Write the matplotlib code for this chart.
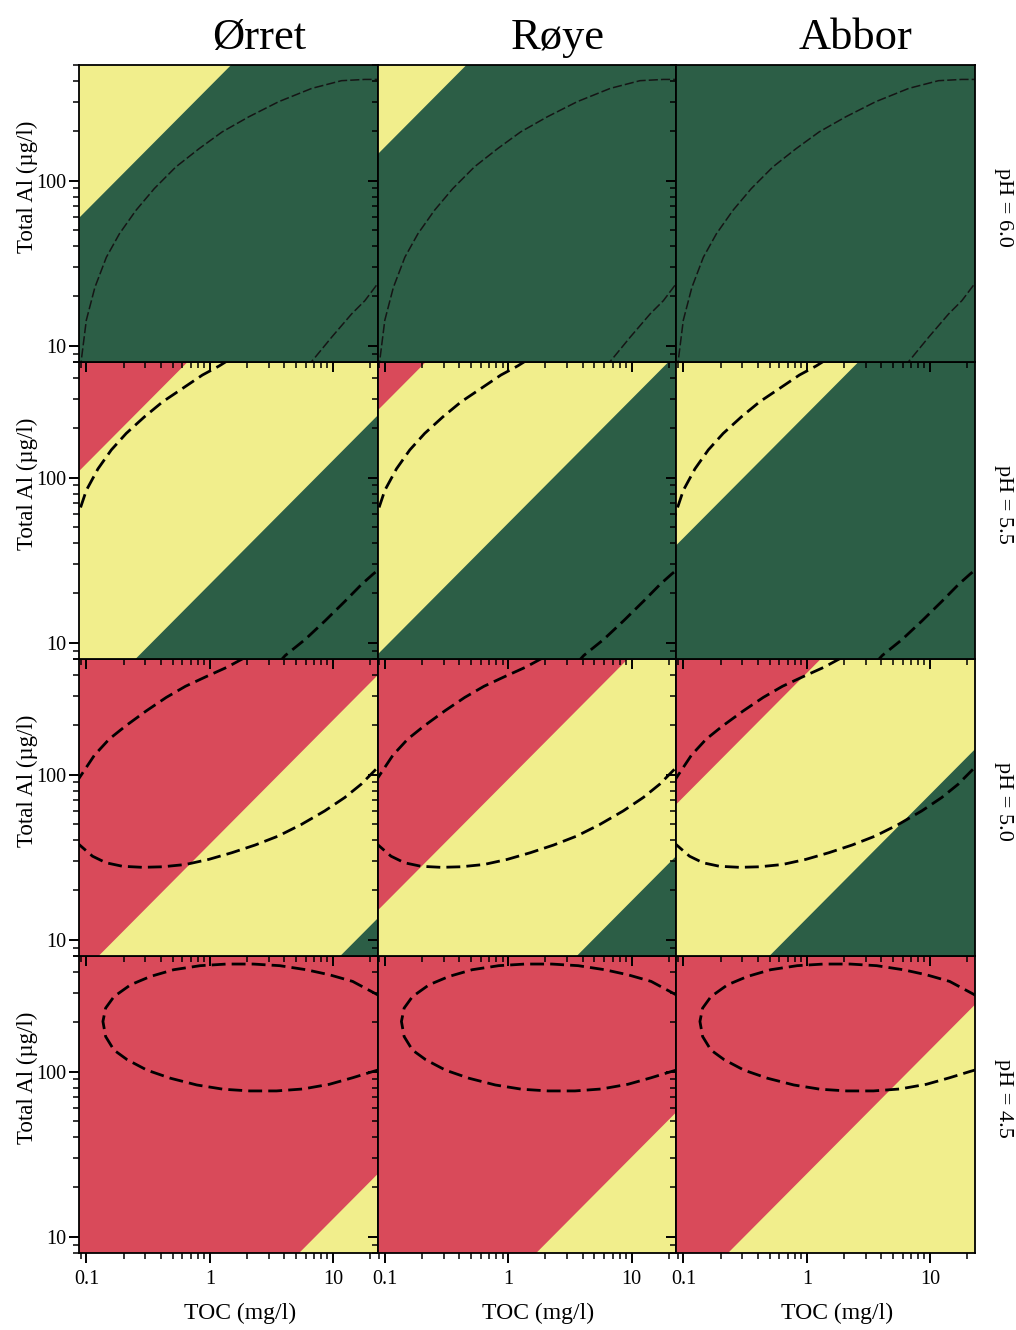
import matplotlib
matplotlib.use('Agg')
import matplotlib.pyplot as plt
from matplotlib.ticker import FixedLocator, LogLocator, NullFormatter

plt.rcParams['font.family'] = ['Liberation Serif', 'DejaVu Serif']

SPECIES = ['Ørret', 'Røye', 'Abbor']
PH_LABELS = ['pH = 6.0', 'pH = 5.5', 'pH = 5.0', 'pH = 4.5']

# band boundaries (straight in log-log): Al (ug/l) at TOC = 0.01 and TOC = 100
TOC_ENDS = [0.01, 100]
RED_YELLOW = [
    [[363, 363000], [871, 871000], [3890, 3.89e6]],     # off chart at pH 6.0
    [[21.9, 21880], [50.9, 50930], [232, 232000]],
    [[1.20, 1202], [2.97, 2965], [13.2, 13180]],
    [[0.0724, 72.4], [0.171, 171], [0.762, 762]],
]
YELLOW_GREEN = [
    [[11.9, 11885], [28.8, 28840], [129, 128800]],
    [[0.716, 716], [1.68, 1679], [7.67, 7674]],
    [[0.0407, 40.7], [0.097, 97.0], [0.427, 427]],
    [[0.0024, 2.40], [0.00566, 5.66], [0.0158, 15.8]],  # off chart at pH 4.5
]

# dashed curves (same in all columns of a row)
PH60_TOC = [[0.0887, 0.091, 0.0997, 0.117, 0.145, 0.185, 0.252, 0.355, 0.531, 0.819,
             1.26, 2.07, 3.62, 6.71, 11.7, 18.1, 24],
            [6.15, 6.93, 9.73, 14.1, 18.1, 21.8, 24]]
PH60_AL = [[7.2, 8.3, 14.3, 22.6, 34.4, 47.7, 66.1, 89.5, 121, 156,
            197, 243, 300, 361, 402, 409, 409],
           [7.5, 8.3, 11.3, 15.6, 18.8, 22.6, 24.9]]
PH55_TOC = [[0.080, 0.088, 0.0998, 0.124, 0.159, 0.210, 0.295, 0.414, 0.601, 0.871,
             1.19, 1.34, 1.45],
            [3.57, 4.09, 5.93, 8.59, 12.5, 17.0, 21.1, 24]]
PH55_AL = [[50.6, 63.4, 83.8, 113, 147, 185, 233, 287, 346, 417, 473, 500, 520],
           [7.5, 8.4, 10.5, 13.6, 17.9, 22.6, 26.1, 28.2]]
PH50_TOC = [[0.0813, 0.092, 0.116, 0.153, 0.208, 0.306, 0.444, 0.635, 0.933, 1.38, 1.77, 2.2],
            [0.0813, 0.093, 0.112, 0.144, 0.196, 0.284, 0.412, 0.635, 0.98, 1.51, 2.33,
             3.59, 5.54, 8.55, 12.4, 16.9, 19.1, 24]]
PH50_AL = [[88, 101, 131, 164, 197, 243, 293, 342, 391, 446, 493, 538],
           [39.5, 36.2, 32.1, 29.3, 27.9, 27.5, 27.7, 28.6, 30.7, 33.7, 37.5,
            42.5, 50, 60.3, 72.6, 87.5, 96, 114]]
PH45_TOC = [[24, 21.5, 14.4, 9.33, 6.05, 3.69, 2.25, 1.37, 0.836, 0.509, 0.330, 0.228,
             0.167, 0.143, 0.136, 0.143, 0.167, 0.214, 0.310, 0.479, 0.785, 1.29, 2.11,
             3.47, 5.69, 9.33, 14.4, 20.9, 24]]
PH45_AL = [[286, 299, 351, 385, 413, 437, 447, 447, 437, 413, 376, 335,
            284, 242, 201, 163, 135, 118, 102, 91.2, 83.0, 78.2, 76.4,
            76.4, 78.5, 83.8, 91.8, 100, 103]]
CURVE_TOC = [PH60_TOC, PH55_TOC, PH50_TOC, PH45_TOC]
CURVE_AL = [PH60_AL, PH55_AL, PH50_AL, PH45_AL]

RED = '#d94a5a'
YELLOW = '#f1ee8c'
GREEN = '#2c5e46'

W, H = 1016, 1330


def panel(fig, r, c):
    left, top, w, h = 79 + 298.5 * c, 65 + 297 * r, 298.5, 297
    ax = fig.add_axes([left / W, 1 - (top + h) / H, w / W, h / H])
    ax.set_zorder(10 + (3 - r) * 3 + c)
    ax.set_xscale('log')
    ax.set_yscale('log')

    ax.fill_between(TOC_ENDS, 1e-5, 1e9, color=GREEN, lw=0)
    ax.fill_between(TOC_ENDS, YELLOW_GREEN[r][c], 1e9, color=YELLOW, lw=0)
    ax.fill_between(TOC_ENDS, RED_YELLOW[r][c], 1e9, color=RED, lw=0)

    if r == 0:
        style = dict(color='#151515', lw=1.1, dashes=(6, 2))
    else:
        style = dict(color='black', lw=2.0, dashes=(5, 2.2))
    for xs, ys in zip(CURVE_TOC[r], CURVE_AL[r]):
        ax.plot(xs, ys, **style)

    ax.set_xlim(0.087, 22.9)
    ax.set_ylim(8.0, 500)

    ax.xaxis.set_major_locator(FixedLocator([0.1, 1, 10]))
    ax.yaxis.set_major_locator(FixedLocator([10, 100]))
    for axis in (ax.xaxis, ax.yaxis):
        axis.set_minor_locator(LogLocator(base=10, subs=range(2, 10)))
        axis.set_minor_formatter(NullFormatter())
    ax.set_xticklabels(['0.1', '1', '10'])
    ax.set_yticklabels(['10', '100'])
    ax.tick_params(which='major', direction='out', length=7, width=1.4, labelsize=14.5,
                   labelleft=(c == 0), labelbottom=(r == 3))
    ax.tick_params(axis='x', which='major', pad=5)
    ax.tick_params(axis='y', which='major', pad=2)
    ax.tick_params(which='minor', direction='out', length=4, width=1.1)
    for s in ax.spines.values():
        s.set_linewidth(1.3)
    return ax


fig = plt.figure(figsize=(W / 100, H / 100), dpi=100)
for r in range(4):
    for c in range(3):
        panel(fig, r, c)

for c, name in enumerate(SPECIES):
    fig.text((259 + 298.5 * c) / W, 1 - 49 / H, name, ha='center', va='baseline', fontsize=32)
    fig.text((240 + 298.5 * c) / W, 1 - 1313 / H, 'TOC (mg/l)', ha='center', va='center',
             fontsize=17)
for r, lab in enumerate(PH_LABELS):
    top = 65 + 297 * r
    fig.text(1003 / W, 1 - (top + 142) / H, lab, rotation=-90, ha='center', va='center',
             fontsize=16)
    fig.text(27 / W, 1 - (top + 122) / H, 'Total Al (µg/l)', rotation=90, ha='center',
             va='center', fontsize=16.5)

fig.savefig('out.png', dpi=100)
